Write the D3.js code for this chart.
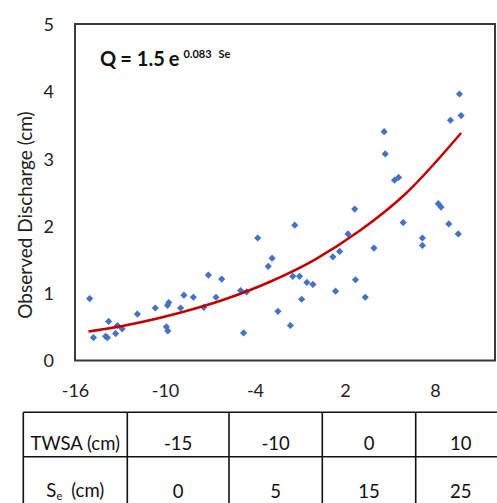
<!DOCTYPE html>
<html>
<head>
<meta charset="utf-8">
<script src="https://cdn.jsdelivr.net/npm/d3@7"></script>
<style>
  html, body { margin: 0; padding: 0; background: #fff; }
  svg { display: block; font-family: Lato, "Open Sans", sans-serif; }
</style>
</head>
<body>
<svg id="chart" width="497" height="503"></svg>
<script>
// ---------- data ----------
const twsaX = [-15.02,-14.77,-13.96,-13.84,-13.76,-13.29,-13.17,-12.86,-11.84,-10.65,
  -9.91,-9.81,-9.83,-9.75,-8.96,-8.74,-8.11,-7.41,-7.11,-6.60,
  -6.22,-4.96,-4.56,-4.76,-3.82,-3.12,-2.86,-2.47,-1.64,-1.35,
  -1.48,-1.03,-0.89,-0.54,-0.14,1.19,1.37,1.64,2.20,2.65,
  2.70,3.35,3.93,4.61,4.68,5.30,5.57,5.88,7.16,7.16,
  8.22,8.40,8.92,9.03,9.55,9.63,9.74];
const dischargeY = [0.92,0.34,0.36,0.34,0.58,0.40,0.52,0.47,0.69,0.78,
  0.50,0.44,0.82,0.86,0.78,0.97,0.94,0.79,1.27,0.94,
  1.21,1.04,1.02,0.41,1.82,1.40,1.52,0.73,0.52,2.01,
  1.25,1.25,0.91,1.16,1.13,1.54,1.03,1.62,1.88,2.25,
  1.20,0.94,1.67,3.40,3.07,2.68,2.72,2.05,1.82,1.71,
  2.33,2.28,2.03,3.57,1.88,3.96,3.64];
// trendline
const trendX = [-15.1, -12, -9, -6, -3, 0, 3, 6, 9.74];
const trendY = [0.43, 0.55, 0.71, 0.91, 1.17, 1.50, 1.93, 2.47, 3.38];
const xTicks = [-16, -10, -4, 2, 8];
const yTicks = [0, 1, 2, 3, 4, 5];
const xDomain = [-16, 12];
const yDomain = [0, 5];
const eqMain = ["Q", "=", "1.5", "e"];
const eqSup = ["0.083", "Se"];
const yTitle = "Observed Discharge (cm)";
const tableRow1 = ["TWSA (cm)", "-15", "-10", "0", "10"];
const tableRow2 = ["0", "5", "15", "25"];

// ---------- layout ----------
const plot = {left: 75, right: 495, top: 24, bottom: 360.5};
const colEdges = [23.3, 127.3, 229, 322.3, 415.7, 506];
const rowEdges = [412.3, 456.7, 520];

const svg = d3.select("#chart");
const x = d3.scaleLinear().domain(xDomain).range([plot.left, plot.right]);
const y = d3.scaleLinear().domain(yDomain).range([plot.bottom, plot.top]);

// frame
svg.append("rect")
  .attr("x", plot.left).attr("y", plot.top)
  .attr("width", plot.right - plot.left).attr("height", plot.bottom - plot.top)
  .attr("fill", "none").attr("stroke", "#3a3a3a").attr("stroke-width", 2);

// x axis labels
const xAxis = d3.axisBottom(x).tickValues(xTicks).tickSize(0).tickPadding(0)
  .tickFormat(d => String(d));
const gx = svg.append("g").attr("transform", `translate(0, 383)`).call(xAxis);
gx.select(".domain").remove();
gx.selectAll("text").attr("font-size", 18).attr("fill", "#222")
  .attr("font-family", "Lato, sans-serif").attr("dy", "0.78em");

// y axis labels
const yAxis = d3.axisLeft(y).tickValues(yTicks).tickSize(0).tickPadding(0)
  .tickFormat(d => String(d));
const gy = svg.append("g").attr("transform", `translate(54, 0)`).call(yAxis);
gy.select(".domain").remove();
gy.selectAll("text").attr("font-size", 18).attr("fill", "#222")
  .attr("font-family", "Lato, sans-serif").attr("dy", "0.36em");

// y title
svg.append("text")
  .attr("transform", "translate(24,215) rotate(-90)")
  .attr("text-anchor", "middle").attr("dominant-baseline", "central")
  .attr("font-size", 19).attr("fill", "#222")
  .text(yTitle);

// points (diamonds)
const diamond = d3.symbol().type(d3.symbolSquare).size(26);
svg.append("g").selectAll("path")
  .data(twsaX.map((v, i) => [v, dischargeY[i]]))
  .join("path")
  .attr("d", diamond)
  .attr("transform", d => `translate(${x(d[0])},${y(d[1])}) rotate(45)`)
  .attr("fill", "#4472C4");

// trend line
const line = d3.line().x(d => x(d[0])).y(d => y(d[1])).curve(d3.curveMonotoneX);
svg.append("path")
  .datum(trendX.map((v, i) => [v, trendY[i]]))
  .attr("d", line)
  .attr("fill", "none").attr("stroke", "#C00000").attr("stroke-width", 2.5);

// equation
const eq = svg.append("text").attr("x", 100).attr("y", 66)
  .attr("font-weight", "bold").attr("fill", "#111");
eq.append("tspan").attr("font-size", 20).text(eqMain[0]);
eq.append("tspan").attr("font-size", 20).attr("dx", 4).text(eqMain[1]);
eq.append("tspan").attr("font-size", 20).attr("dx", 5).text(eqMain[2]);
eq.append("tspan").attr("font-size", 20).attr("dx", 4).text(eqMain[3]);
eq.append("tspan").attr("font-size", 11).attr("dx", 4).attr("dy", -8).text(eqSup[0]);
eq.append("tspan").attr("font-size", 11).attr("dx", 7).text(eqSup[1]);

// table
const tg = svg.append("g").attr("stroke", "#111").attr("stroke-width", 1.6);
tg.append("line").attr("x1", colEdges[0]).attr("x2", colEdges[colEdges.length-1])
  .attr("y1", rowEdges[0]).attr("y2", rowEdges[0]);
tg.append("line").attr("x1", colEdges[0]).attr("x2", colEdges[colEdges.length-1])
  .attr("y1", rowEdges[1]).attr("y2", rowEdges[1]);
colEdges.forEach(cx => tg.append("line").attr("x1", cx).attr("x2", cx)
  .attr("y1", rowEdges[0]).attr("y2", rowEdges[2]));

const colCenters = d3.range(colEdges.length - 1).map(i => (colEdges[i] + colEdges[i+1]) / 2);
tableRow1.forEach((t, i) => svg.append("text")
  .attr("x", colCenters[i]).attr("y", 450).attr("text-anchor", "middle")
  .attr("font-size", 18.5).attr("fill", "#111").text(t));
// S_e label
const se = svg.append("text").attr("x", colCenters[0]).attr("y", 497)
  .attr("text-anchor", "middle").attr("font-size", 18.5).attr("fill", "#111");
se.append("tspan").text("S");
se.append("tspan").attr("font-size", 11).attr("dy", 3).text("e");
se.append("tspan").attr("dy", -3).attr("dx", 9).text("(cm)");
tableRow2.forEach((t, i) => svg.append("text")
  .attr("x", colCenters[i+1]).attr("y", 498).attr("text-anchor", "middle")
  .attr("font-size", 18.5).attr("fill", "#111").text(t));
</script>
</body>
</html>
